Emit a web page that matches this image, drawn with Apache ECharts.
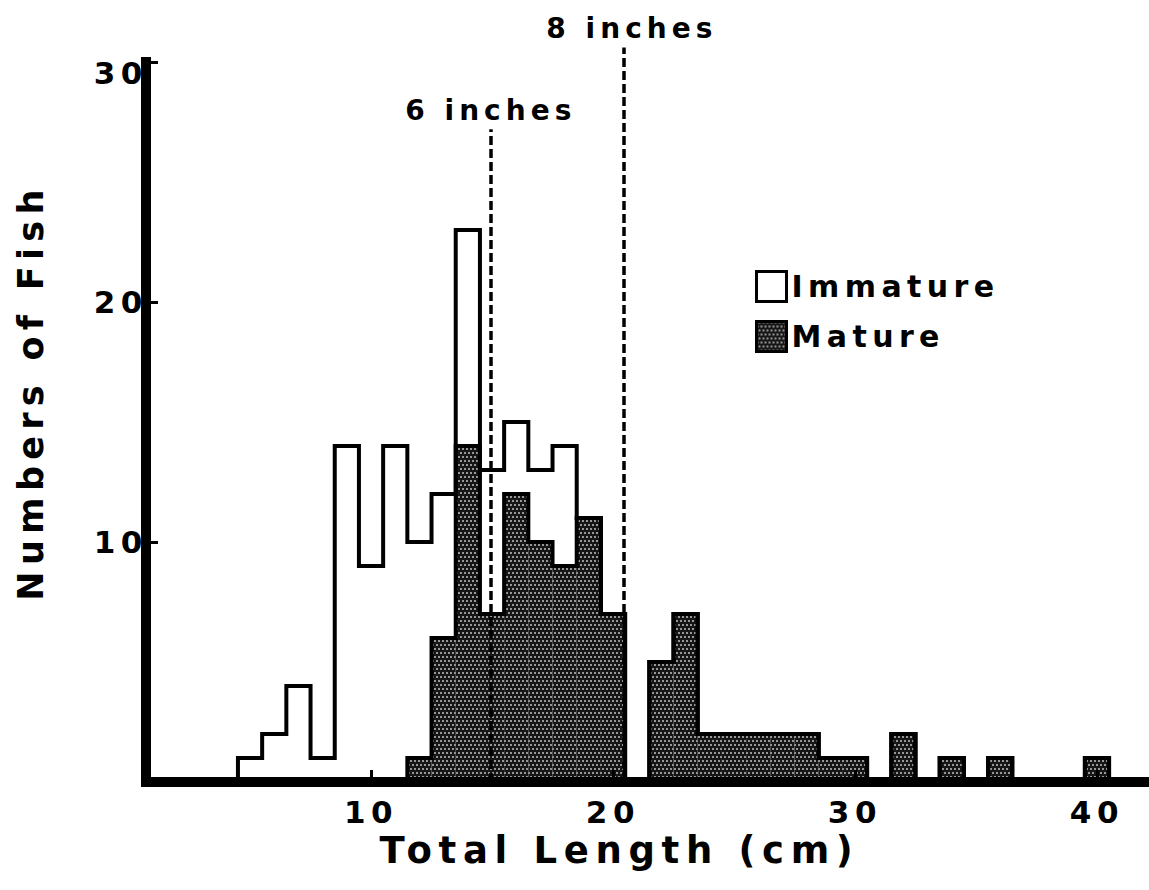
<!DOCTYPE html>
<html>
<head>
<meta charset="utf-8">
<script src="https://cdn.jsdelivr.net/npm/echarts@6/dist/echarts.min.js"></script>
<style>
html, body { margin: 0; padding: 0; background: #fff; }
#main { width: 1149px; height: 890px; }
#main text { letter-spacing: 0.18em; }
</style>
</head>
<body>
<div id="main"></div>
<script>
// ---- data (bins are 1 cm wide, centred on the integer length) ----
const lengthBins     = [5, 6, 7, 8, 9, 10, 11, 12, 13, 14, 15, 16, 17, 18, 19, 20, 21, 22, 23, 24, 25, 26, 27, 28, 29, 30, 31, 32, 33, 34, 35, 36, 37, 38, 39, 40];
const matureCounts   = [0, 0, 0, 0, 0, 0, 0, 1, 6, 14, 7, 12, 10, 9, 11, 7, 0, 5, 7, 2, 2, 2, 2, 2, 1, 1, 0, 2, 0, 1, 0, 1, 0, 0, 0, 1];
const immatureCounts = [1, 2, 4, 1, 14, 9, 14, 9, 6, 9, 6, 3, 3, 5, 0, 0, 0, 0, 0, 0, 0, 0, 0, 0, 0, 0, 0, 0, 0, 0, 0, 0, 0, 0, 0, 0];
const xTickLabels = [10, 20, 30, 40];
const yTickLabels = [0, 10, 20, 30];
const refLabels    = ['6 inches', '8 inches'];
const refLengths   = [14.95, 20.45];
const refLineTops  = [27.2, 30.6];

// ---- derived structures for the library ----
const FONT = 'DejaVu Sans';
const matureData = lengthBins.map((n, i) => [n, matureCounts[i]]);
const immatureData = lengthBins.map((n, i) => [n, immatureCounts[i]]);
const firstBin = lengthBins[0], lastBin = lengthBins[lengthBins.length - 1];
const totalOutline = [[firstBin - 1, 0]].concat(
  lengthBins.map((n, i) => [n, matureCounts[i] + immatureCounts[i]]), [[lastBin + 1, 0]]);
const matureOutline = [[firstBin - 1, 0]].concat(matureData, [[lastBin + 1, 0]]);
const refLabelOffsets = [[0, 0], [8, 0]];

const X_MIN = 0.7, X_MAX = 42.15;

const chart = echarts.init(document.getElementById('main'), null, { renderer: 'svg' });
chart.setOption({
  animation: false,
  backgroundColor: '#fff',
  textStyle: { fontFamily: FONT, fontWeight: 'bold', color: '#000' },
  grid: [
    { left: 146, right: 0, top: 62, bottom: 108 },
    { left: 146, right: 0, top: 38, bottom: 108 }
  ],
  xAxis: [
    {
      gridIndex: 0, type: 'value', min: X_MIN, max: X_MAX, z: 10,
      axisLine: { lineStyle: { color: '#000', width: 10, cap: 'square' } },
      axisTick: { inside: true, length: 12, customValues: xTickLabels, lineStyle: { color: '#000', width: 3 } },
      axisLabel: { customValues: xTickLabels, margin: 14, fontSize: 31, fontWeight: 'bold', color: '#000', fontFamily: FONT },
      splitLine: { show: false },
      name: 'Total Length (cm)', nameLocation: 'middle', nameGap: 46,
      nameTextStyle: { fontSize: 37, fontWeight: 'bold', color: '#000', fontFamily: FONT, padding: [0, 56, 0, 0] }
    },
    { gridIndex: 1, type: 'value', min: X_MIN, max: X_MAX, show: false }
  ],
  yAxis: [
    {
      gridIndex: 0, type: 'value', min: 0, max: 30, interval: 10, z: 10,
      axisLine: { lineStyle: { color: '#000', width: 10, cap: 'square' } },
      axisTick: { inside: true, length: 12, lineStyle: { color: '#000', width: 3 } },
      axisLabel: {
        margin: -2, fontSize: 31, fontWeight: 'bold', color: '#000', fontFamily: FONT,
        formatter: v => (v === 0 ? '' : (v === yTickLabels[yTickLabels.length - 1] ? '{top|' + v + '}' : String(v))),
        rich: { top: { padding: [22, 0, 0, 0], fontSize: 31, fontWeight: 'bold', fontFamily: FONT, color: '#000' } }
      },
      splitLine: { show: false },
      name: 'Numbers of Fish', nameLocation: 'middle', nameGap: 98,
      nameTextStyle: { fontSize: 35, fontWeight: 'bold', color: '#000', fontFamily: FONT, padding: [0, 0, 0, 60] }
    },
    { gridIndex: 1, type: 'value', min: 0, max: 31, show: false }
  ],
  legend: {
    orient: 'vertical', left: 750, top: 265, itemWidth: 30, itemHeight: 30, itemGap: 17,
    icon: 'rect', selectedMode: false,
    textStyle: { fontSize: 30, fontWeight: 'bold', color: '#000', fontFamily: FONT },
    data: [
      { name: 'Immature', itemStyle: { color: '#fff', borderColor: '#000', borderWidth: 3 } },
      { name: 'Mature', itemStyle: { borderColor: '#000', borderWidth: 3 } }
    ]
  },
  series: [
    {
      name: 'Mature', type: 'bar', stack: 'fish', data: matureData,
      barWidth: '100%', z: 3, silent: true,
      itemStyle: {
        color: '#161616',
        decal: {
          symbol: 'rect', symbolSize: 1, color: 'rgba(255,255,255,0.55)',
          dashArrayX: [[2, 2], [0, 2, 2, 0]], dashArrayY: [2, 2], rotation: 0
        }
      }
    },
    {
      name: 'Immature', type: 'bar', stack: 'fish', data: immatureData,
      barWidth: '100%', z: 2, silent: true,
      itemStyle: { color: 'rgba(255,255,255,0)' }
    },
    {
      name: 'outlineTotal', type: 'line', step: 'middle', data: totalOutline,
      symbol: 'none', z: 5, silent: true,
      lineStyle: { color: '#000', width: 4, join: 'miter' }
    },
    {
      name: 'outlineMature', type: 'line', step: 'middle', data: matureOutline,
      symbol: 'none', z: 5, silent: true,
      lineStyle: { color: '#000', width: 4, join: 'miter' }
    },
    {
      name: 'refLines', type: 'line', xAxisIndex: 1, yAxisIndex: 1, data: [], z: 1, silent: true,
      markLine: {
        symbol: 'none', silent: true, animation: false,
        lineStyle: { color: '#000', width: 3.5, type: [9, 4] },
        label: {
          position: 'end', distance: 5, formatter: p => p.name,
          fontSize: 28, fontWeight: 'bold', color: '#000', fontFamily: FONT
        },
        emphasis: { disabled: true },
        data: refLengths.map((x, i) => [
          { coord: [x, 0], name: refLabels[i], label: { offset: refLabelOffsets[i] } },
          { coord: [x, refLineTops[i]] }
        ])
      }
    }
  ]
});
</script>
</body>
</html>
